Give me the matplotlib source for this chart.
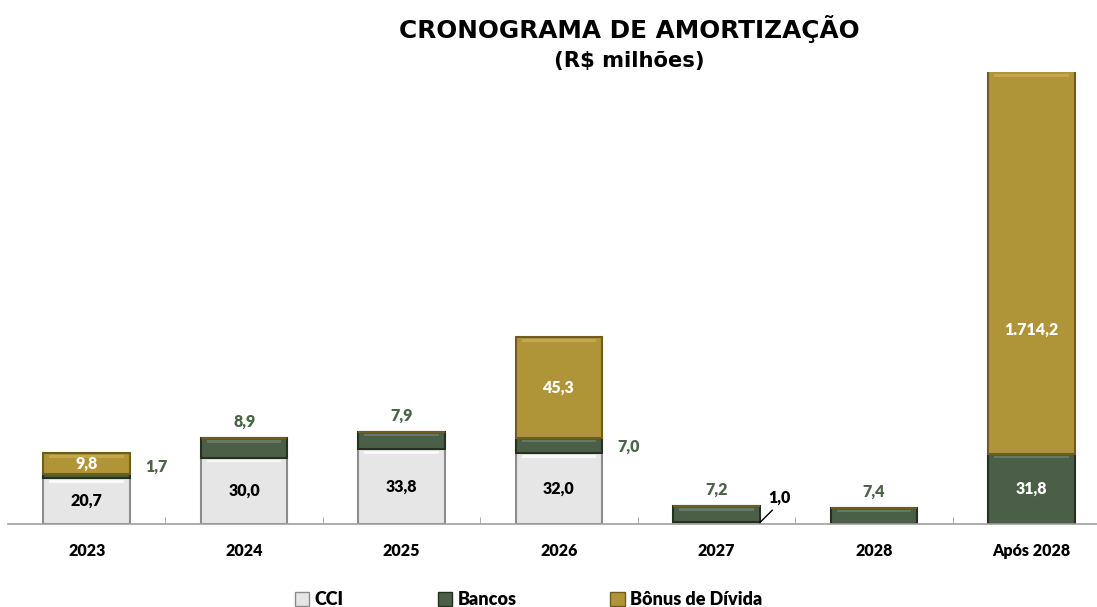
import numpy as np
import matplotlib
matplotlib.use('Agg')
import matplotlib.pyplot as plt
from matplotlib.patches import Patch

years = ['2023', '2024', '2025', '2026', '2027', '2028', 'Após 2028']
cci = [20.7, 30.0, 33.8, 32.0, 1.0, 0.0, 0.0]
bancos = [1.7, 8.9, 7.9, 7.0, 7.2, 7.4, 31.8]
bonus = [9.8, 0.0, 0.0, 45.3, 0.0, 0.0, 1714.2]

CCI_COLOR = '#e6e6e6'
CCI_EDGE = '#8c8c8c'
BANCOS_COLOR = '#4b5e48'
BANCOS_EDGE = '#26301f'
BONUS_COLOR = '#b09438'
BONUS_EDGE = '#6f5c1f'
BANCOS_TEXT = '#4a6447'

LABEL_FONT = ['Lato', 'DejaVu Sans']
W = 'heavy'


def fmt_br(v):
    s = "{:,.1f}".format(v)
    return s.replace(',', 'X').replace('.', ',').replace('X', '.')


fig = plt.figure(figsize=(10.97, 6.07), dpi=100)
fig.patch.set_facecolor('white')
ax = fig.add_axes([8 / 1097, 83 / 607, 1102 / 1097, 452 / 607])

x = np.arange(len(years))
w = 0.55
ymax = 204

cci = np.array(cci)
bancos = np.array(bancos)
bonus = np.array(bonus)

ax.bar(x, cci, w, color=CCI_COLOR, edgecolor=CCI_EDGE, linewidth=1.5)
ax.bar(x, bancos, w, bottom=cci, color=BANCOS_COLOR, edgecolor=BANCOS_EDGE, linewidth=1.5)
ax.bar(x, bonus, w, bottom=cci + bancos, color=BONUS_COLOR, edgecolor=BONUS_EDGE, linewidth=1.5)

# highlight strip along top of each segment (bevel look)
for vals, base, col in [(cci, np.zeros(len(x)), '#ffffff'),
                        (bancos, cci, '#6d8069'),
                        (bonus, cci + bancos, '#c9ad55')]:
    for i in range(len(x)):
        if vals[i] > 3:
            top = min(base[i] + vals[i], ymax)
            ax.bar(x[i], 1.2, w * 0.86, bottom=top - 2.2, color=col, linewidth=0, alpha=0.8)

ax.set_xlim(-0.5, len(years) - 0.5)
ax.set_ylim(0, ymax)

# labels
for i in range(len(x)):
    if cci[i] > 5:
        ax.text(x[i], cci[i] / 2, fmt_br(cci[i]), ha='center', va='center',
                fontsize=11.5, fontweight=W, family=LABEL_FONT, color='black')
    if bonus[i] > 0:
        b0 = cci[i] + bancos[i]
        yb = b0 + bonus[i] / 2 if bonus[i] < 100 else 87.5
        ax.text(x[i], yb, fmt_br(bonus[i]), ha='center', va='center',
                fontsize=11.5, fontweight=W, family=LABEL_FONT, color='white')

# bancos labels
for i in range(len(x)):
    top = cci[i] + bancos[i]
    if bancos[i] > 20:
        ax.text(x[i], cci[i] + bancos[i] / 2, fmt_br(bancos[i]), ha='center', va='center',
                fontsize=11.5, fontweight=W, family=LABEL_FONT, color='white')
    elif bonus[i] > 0:
        # thin segment under a bonus block: label sits to the right
        dy = 4.5 if bancos[i] < 3 else -0.8
        ax.text(x[i] + 0.44, cci[i] + bancos[i] / 2 + dy, fmt_br(bancos[i]), ha='center', va='center',
                fontsize=11.5, fontweight=W, family=LABEL_FONT, color=BANCOS_TEXT)
    else:
        ax.text(x[i], top + 3.5, fmt_br(bancos[i]), ha='center', va='bottom',
                fontsize=11.5, fontweight=W, family=LABEL_FONT, color=BANCOS_TEXT)

# small CCI value in 2027 with leader line
i27 = years.index('2027')
ax.annotate(fmt_br(cci[i27]), xy=(x[i27] + w / 2, 0.6), xytext=(x[i27] + 0.40, 12),
            ha='center', va='center', fontsize=11.5, fontweight=W, family=LABEL_FONT,
            color='black', arrowprops=dict(arrowstyle='-', color='black', lw=1, shrinkA=2, shrinkB=0,
                                           relpos=(0.4, 0.0)))

for s in ['top', 'right', 'left']:
    ax.spines[s].set_visible(False)
ax.spines['bottom'].set_color('#a0a0a0')
ax.spines['bottom'].set_linewidth(1.2)
ax.set_yticks([])
ax.set_xticks(x)
ax.set_xticklabels(years, fontsize=11.5, fontweight=W, family=LABEL_FONT)
ax.tick_params(axis='x', length=0, pad=14)
ax.set_xticks(x[:-1] + 0.5, minor=True)
ax.tick_params(axis='x', which='minor', length=5, color='#a0a0a0', direction='in')

fig.text(0.574, 0.952, 'CRONOGRAMA DE AMORTIZAÇÃO', ha='center', va='center',
         fontsize=17.8, fontweight='bold', family='DejaVu Sans')
fig.text(0.574, 0.900, '(R$ milhões)', ha='center', va='center',
         fontsize=15.2, fontweight='bold', family='DejaVu Sans')

handles = [Patch(facecolor=CCI_COLOR, edgecolor=CCI_EDGE),
           Patch(facecolor=BANCOS_COLOR, edgecolor=BANCOS_EDGE),
           Patch(facecolor=BONUS_COLOR, edgecolor=BONUS_EDGE)]
fig.legend(handles, ['CCI', 'Bancos', 'Bônus de Dívida'], loc='center', bbox_to_anchor=(0.482, 0.012),
           ncol=3, frameon=False, handlelength=0.8, handleheight=0.8, handletextpad=0.3,
           columnspacing=5.2, prop={'family': LABEL_FONT, 'weight': W, 'size': 13})

fig.savefig('out.png', dpi=100)
